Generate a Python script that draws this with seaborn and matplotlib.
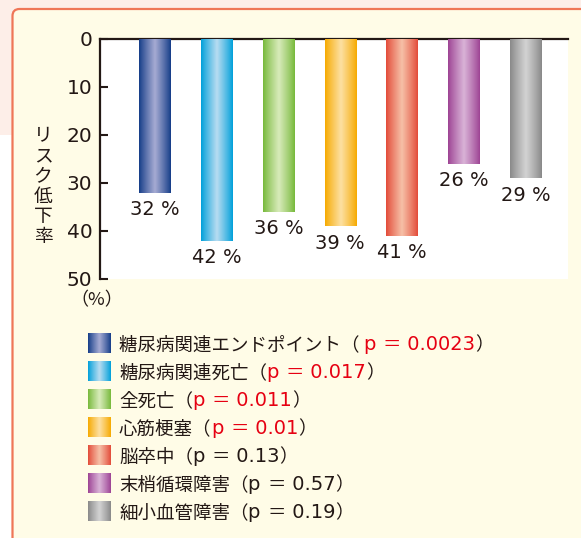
import numpy as np
import matplotlib
matplotlib.use("Agg")
import matplotlib.pyplot as plt
from matplotlib.patches import Rectangle, FancyBboxPatch
from matplotlib.colors import to_rgb
import seaborn as sns

# ---------------- data ----------------
categories = ["糖尿病関連エンドポイント", "糖尿病関連死亡", "全死亡", "心筋梗塞",
              "脳卒中", "末梢循環障害", "細小血管障害"]
risk_reduction = [32, 42, 36, 39, 41, 26, 29]
p_values = ["0.0023", "0.017", "0.011", "0.01", "0.13", "0.57", "0.19"]
p_significant = [True, True, True, True, False, False, False]
edge_colors = ["#153d88", "#00a0da", "#77b93b", "#f6aa00", "#e34b39", "#9d4394", "#898989"]
center_colors = ["#a6abd3", "#b7dcf1", "#d8ebba", "#fde0a2", "#f6c0a7", "#d9b3d7", "#d3d3d3"]
yticks = [0, 10, 20, 30, 40, 50]
ylabel_text = "リスク低下率"

# ---------------- style ----------------
sns.set_theme(style="white")
plt.rcParams["font.family"] = ["DejaVu Sans", "Noto Sans CJK JP"]
TXT = "#231815"
RED = "#e60012"
CJK = ["Noto Sans CJK JP", "DejaVu Sans"]

W, H = 581, 538
fig = plt.figure(figsize=(W / 100, H / 100), dpi=100)
fig.patch.set_facecolor("#fdeee8")

# background axes in pixel coordinates
bg = fig.add_axes([0, 0, 1, 1], zorder=0)
bg.set_xlim(0, W)
bg.set_ylim(H, 0)
bg.axis("off")
bg.add_patch(Rectangle((0, 135), 14, H, facecolor="white", edgecolor="none"))
bg.add_patch(FancyBboxPatch((12.5, 9), 640, 600, boxstyle="round,pad=0,rounding_size=7",
                            facecolor="#fffce7", edgecolor="#ef7657", linewidth=1.6))


def gradient(c_edge, c_center, n=64):
    u = np.linspace(0, 1, n)
    t = (1 - np.abs(2 * u - 1)) ** 0.9
    e = np.array(to_rgb(c_edge))
    c = np.array(to_rgb(c_center))
    return (e[None, :] * (1 - t[:, None]) + c[None, :] * t[:, None])[None, :, :]


# ---------------- main axes ----------------
ax = fig.add_axes([100 / W, 1 - 279 / H, 468 / W, 240 / H], zorder=2)
ax.set_facecolor("white")
sns.barplot(x=categories, y=risk_reduction, hue=categories, palette=edge_colors,
            legend=False, width=0.51, ax=ax, saturation=1)
xlim = (-0.891, 6.688)
ylim = (50, 0)

for i, patch in enumerate(ax.patches):
    x0, w = patch.get_x(), patch.get_width()
    h = patch.get_height()
    patch.set_alpha(0)
    ax.imshow(gradient(edge_colors[i], center_colors[i]), extent=(x0, x0 + w, h, 0),
              aspect="auto", zorder=3, interpolation="bilinear")
    ax.annotate(f"{risk_reduction[i]} %", xy=(x0 + w / 2, h), xytext=(0, -5.5),
                textcoords="offset points", ha="center", va="top",
                fontsize=14, color=TXT, zorder=4)

ax.set_xlim(*xlim)
ax.set_ylim(*ylim)
ax.set_yticks(yticks)
ax.set_yticklabels([str(t) for t in yticks], fontsize=14.5, color=TXT)
ax.set_xticks([])
ax.set_xlabel("")
ax.set_ylabel("")
ax.tick_params(axis="y", direction="in", length=5.5, width=1.5, color=TXT, pad=5.5, left=True)
for s in ["right", "bottom"]:
    ax.spines[s].set_visible(False)
for s in ["left", "top"]:
    ax.spines[s].set_visible(True)
    ax.spines[s].set_color(TXT)
    ax.spines[s].set_linewidth(1.6)

# y label (stacked vertical characters, one text)
bg.text(43, 186, "\n".join(ylabel_text), ha="center", va="center", fontsize=13.5,
        color=TXT, family=CJK, linespacing=0.95)
bg.text(97, 300, "（%）", ha="center", va="center", fontsize=13, color=TXT, family=CJK)

# ---------------- legend ----------------
lg = fig.add_axes([0, 0, 1, 1], zorder=3)
lg.set_xlim(0, W)
lg.set_ylim(H, 0)
lg.axis("off")
for i, name in enumerate(categories):
    yc = 343 + i * 28
    lg.imshow(gradient(edge_colors[i], center_colors[i]), extent=(88, 111, yc + 10, yc - 10),
              aspect="auto", interpolation="bilinear")
    sp = " " if i == 0 else ""
    col = RED if p_significant[i] else TXT
    t1 = lg.text(119, yc + 7, name + "（" + sp, ha="left", va="baseline", fontsize=13.3,
                 color=TXT, family=CJK)
    # chain pieces horizontally
    t2 = lg.annotate("p ", xy=(1, 0), xycoords=t1, ha="left", va="bottom",
                     fontsize=14, color=col, family=["DejaVu Sans"])
    t3 = lg.annotate("＝", xy=(1, 0), xycoords=t2, ha="left", va="bottom",
                     fontsize=13.3, color=col, family=CJK)
    t4 = lg.annotate(" " + p_values[i], xy=(1, 0), xycoords=t3, ha="left", va="bottom",
                     fontsize=14, color=col, family=["DejaVu Sans"])
    lg.annotate("）", xy=(1, 0), xycoords=t4, ha="left", va="bottom",
                fontsize=13.3, color=TXT, family=CJK)
lg.set_xlim(0, W)
lg.set_ylim(H, 0)

fig.savefig("out.png", dpi=100, facecolor=fig.get_facecolor())
